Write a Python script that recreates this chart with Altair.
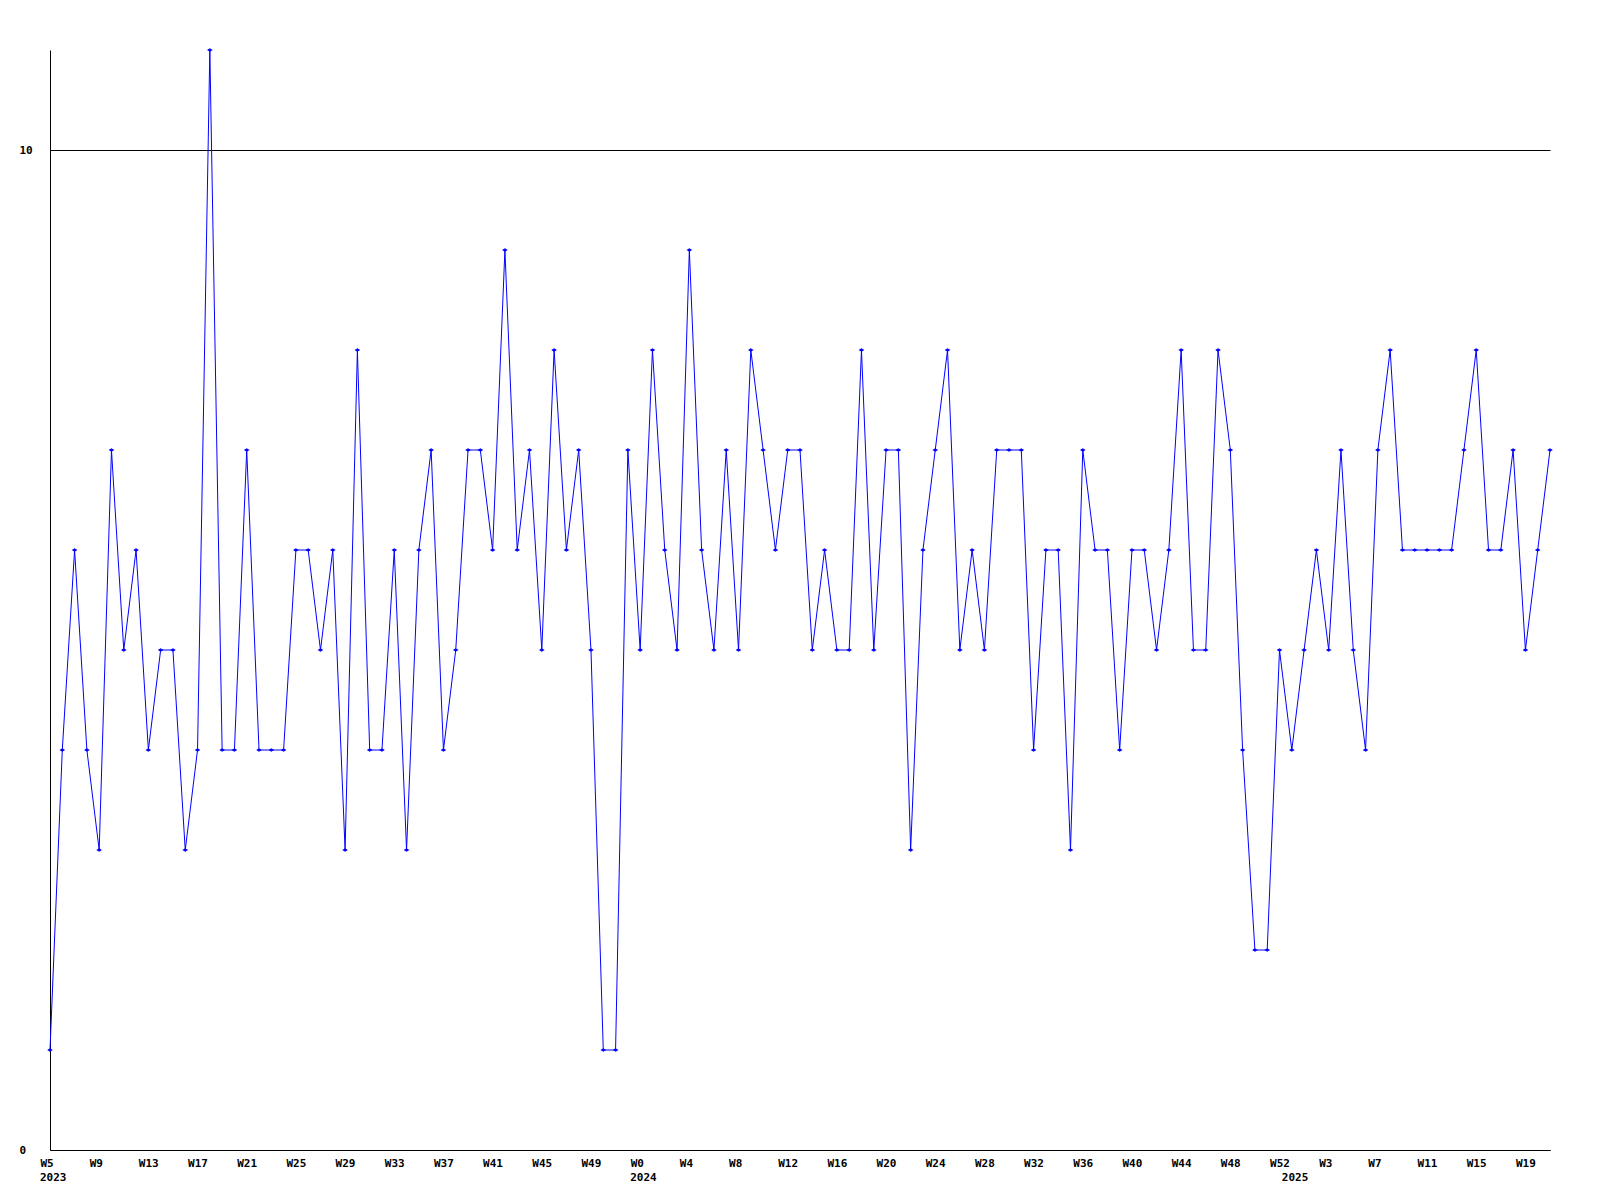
import altair as alt
import pandas as pd

values = [1, 4, 6, 4, 3, 7, 5, 6, 4, 5, 5, 3, 4, 11, 4, 4, 7, 4, 4, 4,
          6, 6, 5, 6, 3, 8, 4, 4, 6, 3, 6, 7, 4, 5, 7, 7, 6, 9, 6, 7,
          5, 8, 6, 7, 5, 1, 1, 7, 5, 8, 6, 5, 9, 6, 5, 7, 5, 8, 7, 6,
          7, 7, 5, 6, 5, 5, 8, 5, 7, 7, 3, 6, 7, 8, 5, 6, 5, 7, 7, 7,
          4, 6, 6, 3, 7, 6, 6, 4, 6, 6, 5, 6, 8, 5, 5, 8, 7, 4, 2, 2,
          5, 4, 5, 6, 5, 7, 5, 4, 7, 8, 6, 6, 6, 6, 6, 7, 8, 6, 6, 7,
          5, 6, 7]

tick_weeks = ["W5", "W9", "W13", "W17", "W21", "W25", "W29", "W33", "W37", "W41",
              "W45", "W49", "W0", "W4", "W8", "W12", "W16", "W20", "W24", "W28",
              "W32", "W36", "W40", "W44", "W48", "W52", "W3", "W7", "W11", "W15", "W19"]
years = ["2023", "2024", "2025"]
year_start_idx = [0, 48, 101]

df = pd.DataFrame({"idx": list(range(len(values))), "count": values})
ydf = pd.DataFrame({"idx": year_start_idx, "year": years})

label_expr = "[" + ",".join("'%s'" % w for w in tick_weeks) + "][round(datum.value / 4)]"
tick_vals = [i * 4 for i in range(len(tick_weeks))]

FONT = "DejaVu Sans Mono"
H = 1100
W = 1500

xscale = alt.Scale(domain=[0, len(values) - 1], nice=False, zero=False)

x_enc = alt.X(
    "idx:Q",
    scale=xscale,
    axis=alt.Axis(
        values=tick_vals,
        labelExpr=label_expr,
        title=None,
        grid=False,
        ticks=False,
        domainColor="black",
        domainWidth=1,
        labelAlign="left",
        labelBaseline="top",
        labelOffset=-10,
        labelPadding=7,
        labelFont=FONT,
        labelFontWeight="bold",
        labelFontSize=11,
        labelColor="black",
        labelOverlap=False,
        labelFlush=False,
    ),
)
y_enc = alt.Y(
    "count:Q",
    scale=alt.Scale(domain=[0, 11], nice=False),
    axis=alt.Axis(
        values=[0, 10],
        title=None,
        grid=True,
        gridColor="black",
        gridWidth=1,
        gridOpacity=1,
        ticks=False,
        domainColor="black",
        domainWidth=1,
        labelAlign="left",
        labelBaseline="middle",
        labelPadding=31,
        labelFont=FONT,
        labelFontWeight="bold",
        labelFontSize=11,
        labelColor="black",
    ),
)

base = alt.Chart(df).encode(x=x_enc, y=y_enc)
line = base.mark_line(color="#0000FF", strokeWidth=1)
pts = base.mark_point(
    shape="M-1,0L0,-0.6L1,0L0,0.6Z", size=32, filled=True, color="#0000FF", opacity=1
)

year_text = alt.Chart(ydf).mark_text(
    font=FONT, fontWeight="bold", fontSize=11, color="black",
    align="left", baseline="top", dx=-10,
).encode(
    x=alt.X("idx:Q", scale=xscale),
    y=alt.value(H + 22),
    text="year:N",
)

chart = (
    alt.layer(line, pts, year_text)
    .properties(
        width=W,
        height=H,
        autosize=alt.AutoSizeParams(type="none"),
        padding={"left": 42, "top": 42, "right": 30, "bottom": 42},
        background="white",
    )
    .configure_view(stroke=None)
)

chart.save("out.html", embed_options={"renderer": "svg", "actions": False})
